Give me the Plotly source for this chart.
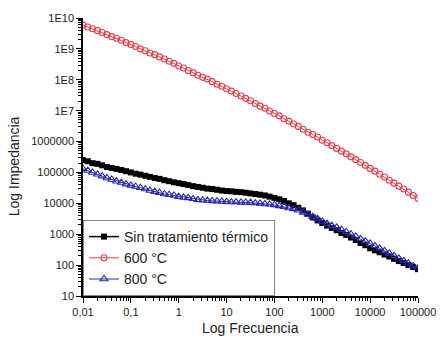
import plotly.graph_objects as go

# Frequency sweep (Hz) (10 points per decade)
frecuencia = [
    0.01, 0.0126, 0.0158, 0.02, 0.0251, 0.0316, 0.0398, 0.0501, 0.0631, 0.0794,
    0.1, 0.126, 0.158, 0.2, 0.251, 0.316, 0.398, 0.501, 0.631, 0.794,
    1, 1.26, 1.58, 2, 2.51, 3.16, 3.98, 5.01, 6.31, 7.94,
    10, 12.6, 15.8, 20, 25.1, 31.6, 39.8, 50.1, 63.1, 79.4,
    100, 126, 158, 200, 251, 316, 398, 501, 631, 794,
    1000, 1260, 1580, 2000, 2510, 3160, 3980, 5010, 6310, 7940,
    10000, 12600, 15800, 20000, 25100, 31600, 39800, 50100, 63100, 79400,
    100000,
]

# Impedance values
z_sin_tratamiento = [
    2.5e5, 2.3e5, 2.0e5, 1.9e5, 1.7e5, 1.5e5, 1.4e5, 1.3e5, 1.2e5, 1.1e5,
    1.0e5, 9.1e4, 8.5e4, 7.8e4, 7.2e4, 6.6e4, 6.2e4, 5.6e4, 5.2e4, 4.8e4,
    4.5e4, 4.2e4, 3.9e4, 3.6e4, 3.4e4, 3.2e4, 3.0e4, 2.9e4, 2.75e4, 2.6e4,
    2.5e4, 2.45e4, 2.35e4, 2.3e4, 2.2e4, 2.1e4, 2.0e4, 1.9e4, 1.8e4, 1.65e4,
    1.5e4, 1.35e4, 1.2e4, 1.0e4, 8.7e3, 7.2e3, 5.9e3, 4.6e3, 3.5e3, 2.8e3,
    2.3e3, 1.9e3, 1.6e3, 1.35e3, 1.1e3, 950, 780, 650, 520, 440,
    350, 300, 260, 220, 190, 160, 135, 117, 100, 87,
    74,
]

z_600 = [
    5.9e9, 5.1e9, 4.5e9, 3.9e9, 3.4e9, 2.9e9, 2.5e9, 2.2e9, 1.9e9, 1.6e9,
    1.4e9, 1.2e9, 1.0e9, 8.7e8, 7.4e8, 6.5e8, 5.5e8, 4.7e8, 4.0e8, 3.4e8,
    2.8e8, 2.4e8, 2.0e8, 1.7e8, 1.4e8, 1.2e8, 1.05e8, 8.7e7, 7.2e7, 6.2e7,
    5.1e7, 4.3e7, 3.6e7, 3.0e7, 2.5e7, 2.1e7, 1.7e7, 1.4e7, 1.2e7, 9.8e6,
    8.1e6, 6.8e6, 5.5e6, 4.6e6, 3.7e6, 3.1e6, 2.5e6, 2.0e6, 1.7e6, 1.4e6,
    1.1e6, 9.1e5, 7.4e5, 6.0e5, 4.9e5, 4.0e5, 3.2e5, 2.6e5, 2.1e5, 1.7e5,
    1.35e5, 1.1e5, 8.7e4, 7.1e4, 5.6e4, 4.5e4, 3.6e4, 2.9e4, 2.3e4, 1.8e4,
    1.45e4,
]

z_800 = [
    1.3e5, 1.15e5, 1.0e5, 8.7e4, 7.6e4, 6.6e4, 5.9e4, 5.2e4, 4.7e4, 4.2e4,
    3.8e4, 3.5e4, 3.2e4, 2.9e4, 2.6e4, 2.4e4, 2.2e4, 2.0e4, 1.9e4, 1.8e4,
    1.65e4, 1.55e4, 1.5e4, 1.4e4, 1.3e4, 1.26e4, 1.23e4, 1.2e4, 1.17e4, 1.15e4,
    1.12e4, 1.1e4, 1.1e4, 1.07e4, 1.07e4, 1.05e4, 1.02e4, 1.0e4, 9.5e3, 9.3e3,
    8.9e3, 8.3e3, 7.8e3, 7.1e3, 6.6e3, 6.0e3, 5.1e3, 4.4e3, 3.7e3, 3.2e3,
    2.6e3, 2.2e3, 1.9e3, 1.66e3, 1.4e3, 1.2e3, 1.0e3, 850, 710, 600,
    500, 420, 350, 290, 240, 200, 166, 138, 115, 95,
    79,
]

series_names = ["Sin tratamiento térmico", "600 °C", "800 °C"]

x_tickvals = [0.01, 0.1, 1, 10, 100, 1000, 10000, 100000]
x_ticktext = ["0,01", "0,1", "1", "10", "100", "1000", "10000", "100000"]
y_tickvals = [10, 100, 1000, 10000, 100000, 1e6, 1e7, 1e8, 1e9, 1e10]
y_ticktext = ["10", "100", "1000", "10000", "100000", "1000000", "1E7", "1E8", "1E9", "1E10"]

x_minor = [m * d for d in [0.01, 0.1, 1, 10, 100, 1000, 10000] for m in range(2, 10)]
y_minor = [m * d for d in [10, 100, 1000, 1e4, 1e5, 1e6, 1e7, 1e8, 1e9] for m in range(2, 10)]

FONT = "Liberation Sans, Arial, sans-serif"

fig = go.Figure()
fig.add_trace(go.Scatter(
    x=frecuencia, y=z_sin_tratamiento, name=series_names[0], mode="lines+markers",
    line=dict(color="black", width=1.5),
    marker=dict(symbol="square", size=6, color="black"),
))
fig.add_trace(go.Scatter(
    x=frecuencia, y=z_600, name=series_names[1], mode="lines+markers",
    line=dict(color="#e0404c", width=1),
    marker=dict(symbol="circle-open", size=6, color="#e0404c", line=dict(width=1.1)),
))
fig.add_trace(go.Scatter(
    x=frecuencia, y=z_800, name=series_names[2], mode="lines+markers",
    line=dict(color="#2a2aa8", width=1),
    marker=dict(symbol="triangle-up-open", size=7, color="#2a2aa8", line=dict(width=1.1)),
))

axis_common = dict(
    type="log", showgrid=False, zeroline=False, showline=True,
    linecolor="black", linewidth=1.5, ticks="outside", ticklen=5, tickwidth=1.2,
    tickcolor="black", tickfont=dict(family=FONT, size=11, color="#222"),
)

fig.update_layout(
    width=448, height=345,
    margin=dict(l=83, r=19, t=14, b=49),
    paper_bgcolor="white", plot_bgcolor="white",
    font=dict(family=FONT, color="#222"),
    showlegend=True,
    legend=dict(
        x=0, y=0, xanchor="left", yanchor="bottom",
        bgcolor="white", bordercolor="#888", borderwidth=1,
        font=dict(family=FONT, size=14, color="#222"),
        tracegroupgap=0,
    ),
    xaxis=dict(
        axis_common, range=[-2, 5], tickmode="array",
        tickvals=x_tickvals, ticktext=x_ticktext,
        minor=dict(tickmode="array", tickvals=x_minor, ticks="outside", ticklen=3, tickcolor="black"),
    ),
    yaxis=dict(
        axis_common, range=[1, 10], tickmode="array",
        tickvals=y_tickvals, ticktext=y_ticktext,
        minor=dict(tickmode="array", tickvals=y_minor, ticks="outside", ticklen=3, tickcolor="black"),
    ),
    annotations=[
        dict(text="Log Frecuencia", xref="paper", yref="paper", x=0.5, y=-0.115,
             xanchor="center", yanchor="middle", showarrow=False,
             font=dict(family=FONT, size=14, color="#222")),
        dict(text="Log Impedancia", xref="paper", yref="paper", x=-0.205, y=0.468,
             xanchor="center", yanchor="middle", showarrow=False, textangle=-90,
             font=dict(family=FONT, size=14, color="#222")),
    ],
)

fig.write_html("out.html")
